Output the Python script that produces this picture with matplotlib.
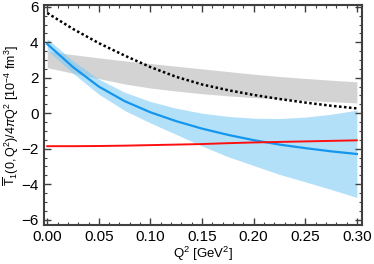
import matplotlib
matplotlib.use("Agg")
import matplotlib.pyplot as plt
from matplotlib.ticker import MultipleLocator

plt.rcParams['font.family'] = ['Liberation Sans', 'DejaVu Sans']
plt.rcParams['mathtext.fontset'] = 'custom'
plt.rcParams['mathtext.rm'] = 'Liberation Sans'
plt.rcParams['mathtext.it'] = 'Liberation Sans:italic'

q2 = [0.0, 0.025, 0.05, 0.075, 0.1, 0.125, 0.15, 0.175, 0.2, 0.225, 0.25, 0.275, 0.3]

dotted = [5.65, 4.75, 3.95, 3.25, 2.6, 2.05, 1.62, 1.3, 1.03, 0.8, 0.6, 0.42, 0.27]

gray_hi = [3.5, 3.3, 3.12, 2.95, 2.8, 2.65, 2.5, 2.35, 2.2, 2.07, 1.96, 1.86, 1.77]
gray_lo = [2.57, 2.25, 1.95, 1.65, 1.42, 1.25, 1.1, 0.98, 0.88, 0.8, 0.72, 0.65, 0.58]

blue = [3.9, 2.6, 1.5, 0.68, 0.05, -0.45, -0.87, -1.22, -1.52, -1.77, -1.97, -2.15, -2.3]
blue_hi = [4.2, 2.95, 1.92, 1.18, 0.66, 0.28, 0.0, -0.18, -0.28, -0.3, -0.22, -0.06, 0.17]
blue_lo = [3.55, 2.25, 1.07, 0.15, -0.55, -1.2, -1.85, -2.45, -2.95, -3.45, -3.87, -4.3, -4.75]

red = [-1.86, -1.86, -1.85, -1.83, -1.8, -1.77, -1.74, -1.69, -1.65, -1.62, -1.59, -1.56, -1.53]

fig = plt.figure(figsize=(3.74, 2.64), dpi=100)
ax = fig.add_axes([0.118, 0.148, 0.85, 0.833])

ax.fill_between(q2, gray_lo, gray_hi, color='#b0b0b0', alpha=0.55, lw=0)
ax.fill_between(q2, blue_lo, blue_hi, color='#7fccf5', alpha=0.6, lw=0)
ax.plot(q2, blue, color='#1496ee', lw=1.6)
ax.plot(q2, red, color='#ff1010', lw=1.4)
ax.plot(q2, dotted, color='black', lw=1.8, ls=(0, (1, 1)))

ax.set_xlim(-0.003, 0.305)
ax.set_ylim(-6.3, 6.1)
ax.xaxis.set_major_locator(MultipleLocator(0.05))
ax.xaxis.set_minor_locator(MultipleLocator(0.01))
ax.yaxis.set_major_locator(MultipleLocator(2))
ax.yaxis.set_minor_locator(MultipleLocator(0.5))
ax.xaxis.set_major_formatter(plt.FormatStrFormatter('%.2f'))

ax.tick_params(which='both', direction='in', top=True, right=True,
               color='#404040', labelsize=11, pad=4)
ax.tick_params(which='major', length=5, width=1)
ax.tick_params(which='minor', length=2.5, width=0.8)
for s in ax.spines.values():
    s.set_color('#404040')
    s.set_linewidth(1.5)

ax.set_xlabel(r'Q$^2$ [GeV$^2$]', fontsize=9.5, labelpad=0)
ax.set_ylabel(r'$\overline{\mathrm{T}}_1(0,\mathrm{Q}^2)/4\pi\mathrm{Q}^2$ [10$^{-4}$ fm$^3$]',
              fontsize=9, labelpad=0)

fig.savefig('out.png', dpi=100)
